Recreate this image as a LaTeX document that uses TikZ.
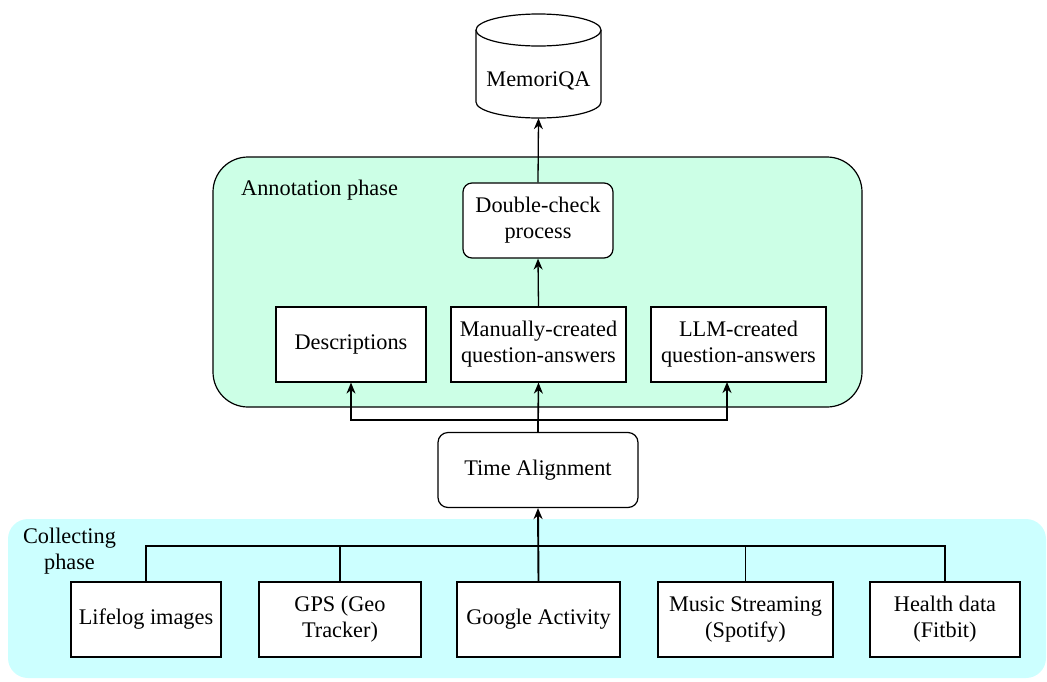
\documentclass[tikz,border=0pt]{standalone}
\usepackage{fontspec}
\setmainfont{Liberation Serif}
\usetikzlibrary{arrows.meta}
\definecolor{annofill}{HTML}{CCFFE6}
\definecolor{collfill}{HTML}{CCFFFF}
\begin{document}
\begin{tikzpicture}[x=1pt,y=-1pt,
  every node/.style={font=\fontsize{22.3}{26}\selectfont},
  box/.style={draw, fill=white, rectangle, line width=1.2pt, align=center, inner sep=0pt, minimum height=75pt},
  rbox/.style={box, rounded corners=9pt},
  conn/.style={line width=1.3pt, -{Stealth[length=11pt,width=9pt,inset=3.5pt]}},
  link/.style={line width=1.3pt},
  grp/.style={line width=1.2pt}
]
\useasboundingbox (0,0) rectangle (1047,681);
% group backgrounds
\path[fill=collfill, rounded corners=20pt] (8,519) rectangle (1046,678);
\draw[grp, fill=annofill, rounded corners=35pt] (213,157) rectangle (862,407);
\node[anchor=base west, inner sep=0pt] (annolbl) at (241,195) {Annotation phase};
\node[align=center, inner sep=0pt] (colllbl) at (69.5,551) {Collecting\\phase};
% database cylinder
\node[minimum width=125pt, minimum height=104pt, inner sep=0pt] (db) at (538.5,66) {};
\draw[grp, fill=white] (476,30) -- (476,102) arc[start angle=180, end angle=360, x radius=62.5pt, y radius=16pt] -- (601,30);
\draw[grp, fill=white] (538.5,30) ellipse [x radius=62.5pt, y radius=16pt];
\node (dbtext) at (538.5,81) {MemoriQA};
% annotation nodes
\node[rbox, minimum width=150pt] (dc) at (538,220.5) {Double-check\\process};
\node[box, minimum width=150pt] (desc) at (351,344.5) {Descriptions};
\node[box, minimum width=175pt] (man) at (538.5,344.5) {Manually-created\\question-answers};
\node[box, minimum width=175pt] (llm) at (738.5,344.5) {LLM-created\\question-answers};
\node[rbox, rounded corners=10pt, minimum width=200pt] (ta) at (538,470) {Time Alignment};
% collecting nodes
\node[box, minimum width=150pt] (life) at (146,619.5) {Lifelog images};
\node[box, minimum width=162pt] (gps) at (340,619.5) {GPS (Geo\\Tracker)};
\node[box, minimum width=163pt] (goog) at (538.5,619.5) {Google Activity};
\node[box, minimum width=175pt] (music) at (745.5,619.5) {Music Streaming\\(Spotify)};
\node[box, minimum width=150pt] (health) at (945,619.5) {Health data\\(Fitbit)};
% junctions
\coordinate (jtop) at (538,420);
\coordinate (jbot) at (538.5,546);
\coordinate (llmin) at (727,382);
% connectors
\draw[link] (life.north) |- (jbot);
\draw[link] (gps.north) |- (jbot);
\draw[link] (music.north) |- (jbot);
\draw[link] (health.north) |- (jbot);
\draw[conn, line width=1.9pt] (goog.north) -- (ta.south);
\draw[link] (ta.north) -- (jtop);
\draw[conn] (jtop) -| (desc.south);
\draw[conn] (jtop) -| (llmin);
\draw[conn, line width=1.6pt] (ta.north) -- (man.south);
\draw[conn] (man.north) -- (dc.south);
\draw[conn] (dc.north) -- (db.south);
\end{tikzpicture}
\end{document}
